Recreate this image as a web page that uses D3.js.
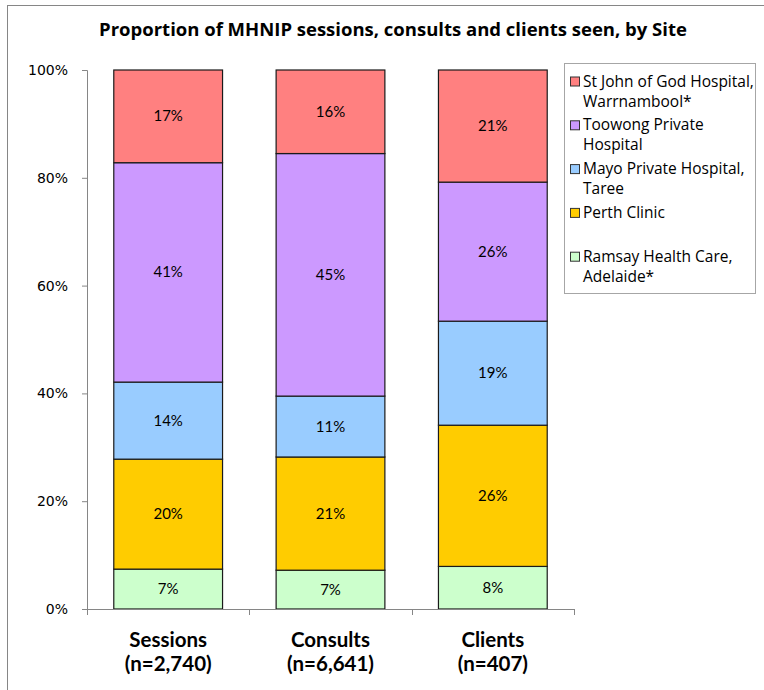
<!DOCTYPE html>
<html>
<head>
<meta charset="utf-8">
<script src="https://cdn.jsdelivr.net/npm/d3@7"></script>
<style>
    body { margin: 0; background: #fff; }
    svg { display: block; }
</style>
</head>
<body>
<div id="chart"></div>
<script>
var w = 764, h = 690;

// data (percent of each column)
var categories = ["Sessions", "Consults", "Clients"];
var counts = ["(n=2,740)", "(n=6,641)", "(n=407)"];
var sites = ["Ramsay Health Care, Adelaide*", "Perth Clinic", "Mayo Private Hospital, Taree",
             "Toowong Private Hospital", "St John of God Hospital, Warrnambool*"];
var legendLines = [["Ramsay Health Care,", "Adelaide*"], ["Perth Clinic"], ["Mayo Private Hospital,", "Taree"],
                   ["Toowong Private", "Hospital"], ["St John of God Hospital,", "Warrnambool*"]];
var ramsay = [7.4, 7.2, 7.9];
var perth = [20.4, 21.0, 26.2];
var mayo = [14.3, 11.3, 19.3];
var toowong = [40.7, 45.0, 25.8];
var stjohn = [17.2, 15.5, 20.8];
var colors = ["#CCFFCC", "#FFCC00", "#99CCFF", "#CC99FF", "#FF8080"];
var yTicks = [0, 20, 40, 60, 80, 100];

var margin = {left: 87, right: 190, top: 70, bottom: 81};
var svg, x, y;

function canvas(div) {
    return d3.select(div)
        .append("svg")
        .attr("width", w)
        .attr("height", h);
}

function buildScales() {
    x = d3.scaleBand()
        .domain(categories)
        .range([margin.left, 574])
        .paddingInner(0.33)
        .paddingOuter(0.165);
    y = d3.scaleLinear()
        .domain([0, 100])
        .range([h - margin.bottom, margin.top]);
}

function drawFrame() {
    svg.append("rect")
        .attr("x", 7.5).attr("y", 5.5)
        .attr("width", w).attr("height", h)
        .attr("fill", "none")
        .attr("stroke", "#868686");

    svg.append("text")
        .attr("x", 393)
        .attr("y", 36)
        .attr("text-anchor", "middle")
        .style("font-family", "Open Sans, sans-serif")
        .style("font-weight", "bold")
        .style("font-size", "18.5px")
        .text("Proportion of MHNIP sessions, consults and clients seen, by Site");
}

function drawAxes() {
    var yAxis = d3.axisLeft(y)
        .tickValues(yTicks)
        .tickSize(5)
        .tickPadding(14)
        .tickFormat(function(d) { return d + "%"; });
    var g = svg.append("g")
        .attr("transform", "translate(" + margin.left + ",0)")
        .call(yAxis);
    g.selectAll("path, line").attr("stroke", "#868686");
    g.selectAll("text")
        .style("font-family", "DejaVu Sans, sans-serif")
        .style("font-size", "14px")
        .attr("fill", "#000");

    // x axis: line plus category divider ticks
    var base = y(0);
    svg.append("line")
        .attr("x1", x.range()[0]).attr("x2", x.range()[1])
        .attr("y1", base + 0.5).attr("y2", base + 0.5)
        .attr("stroke", "#868686");
    var step = x.step();
    var dividers = d3.range(categories.length + 1).map(function(i) {
        return x.range()[0] + i * step;
    });
    svg.selectAll(".xtick")
        .data(dividers)
        .enter()
        .append("line")
        .attr("class", "xtick")
        .attr("x1", function(d) { return Math.round(d) + 0.5; })
        .attr("x2", function(d) { return Math.round(d) + 0.5; })
        .attr("y1", base)
        .attr("y2", base + 6)
        .attr("stroke", "#868686");

    var labels = svg.selectAll(".xlabel")
        .data(categories)
        .enter()
        .append("text")
        .attr("class", "xlabel")
        .attr("x", function(d) { return x(d) + x.bandwidth() / 2; })
        .attr("y", 647)
        .attr("text-anchor", "middle")
        .style("font-family", "Lato, sans-serif")
        .style("font-weight", "bold")
        .style("font-size", "20.5px");
    labels.append("tspan")
        .attr("x", function(d) { return x(d) + x.bandwidth() / 2; })
        .text(function(d) { return d; });
    labels.append("tspan")
        .attr("x", function(d) { return x(d) + x.bandwidth() / 2; })
        .attr("dy", 24)
        .text(function(d, i) { return counts[i]; });
}

function drawBars() {
    var table = categories.map(function(c, i) {
        return {cat: c, r: ramsay[i], p: perth[i], m: mayo[i], t: toowong[i], s: stjohn[i]};
    });
    var stack = d3.stack().keys(["r", "p", "m", "t", "s"]);
    var series = stack(table);

    var groups = svg.selectAll(".series")
        .data(series)
        .enter()
        .append("g")
        .attr("class", "series")
        .attr("fill", function(d, i) { return colors[i]; });

    groups.selectAll("rect")
        .data(function(d) { return d; })
        .enter()
        .append("rect")
        .attr("x", function(d) { return x(d.data.cat); })
        .attr("y", function(d) { return y(d[1]); })
        .attr("width", x.bandwidth())
        .attr("height", function(d) { return y(d[0]) - y(d[1]); })
        .attr("stroke", "#1a1a1a")
        .attr("stroke-width", 1.2);

    groups.selectAll("text")
        .data(function(d) { return d; })
        .enter()
        .append("text")
        .attr("x", function(d) { return x(d.data.cat) + x.bandwidth() / 2; })
        .attr("y", function(d) { return (y(d[0]) + y(d[1])) / 2 + 5; })
        .attr("text-anchor", "middle")
        .attr("fill", "#000")
        .style("font-family", "Lato, sans-serif")
        .style("font-size", "15px")
        .text(function(d) { return Math.round(d[1] - d[0]) + "%"; });
}

function drawLegend() {
    var lx = 564, ly = 63;
    svg.append("rect")
        .attr("x", lx + 0.5).attr("y", ly + 0.5)
        .attr("width", 191).attr("height", 230)
        .attr("fill", "#fff")
        .attr("stroke", "#a6a6a6");

    var order = d3.range(sites.length).reverse();
    var item = svg.selectAll(".legend-item")
        .data(order)
        .enter()
        .append("g")
        .attr("class", "legend-item")
        .attr("transform", function(d, i) {
            return "translate(" + (lx + 6) + "," + (ly + 18.5 + i * 43.8) + ")";
        });

    item.append("rect")
        .attr("x", 0.5).attr("y", -4.5)
        .attr("width", 9).attr("height", 9)
        .attr("fill", function(d) { return colors[d]; })
        .attr("stroke", "#333");

    item.each(function(d) {
        var t = d3.select(this).append("text")
            .attr("y", 5)
            .style("font-family", "Open Sans, sans-serif")
            .style("font-size", "15.5px")
            .attr("fill", "#000");
        legendLines[d].forEach(function(line, k) {
            t.append("tspan")
                .attr("x", 13)
                .attr("dy", k === 0 ? 0 : 20)
                .text(line);
        });
    });
}

svg = canvas("#chart");
buildScales();
drawFrame();
drawBars();
drawAxes();
drawLegend();
</script>
</body>
</html>
